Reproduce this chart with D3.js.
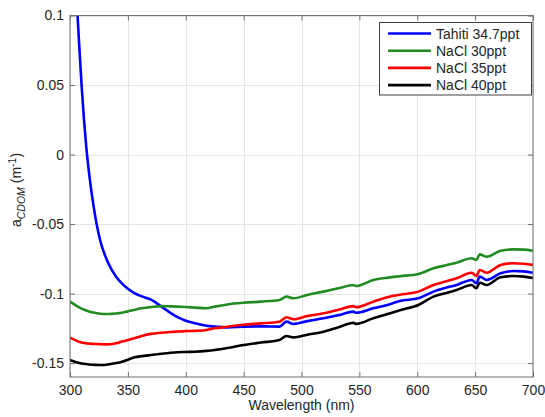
<!DOCTYPE html>
<html>
<head>
<meta charset="utf-8">
<script src="https://cdn.jsdelivr.net/npm/d3@7"></script>
<style>
  html, body { margin: 0; padding: 0; background: #fff; }
  svg { display: block; }
  text { font-family: "Liberation Sans", Arial, Helvetica, sans-serif; }
</style>
</head>
<body>
<svg id="chart" width="545" height="417"></svg>
<script>
// Wavelength grid (nm) shared by all spectra
const wavelengths = [300, 306, 308, 310, 312, 314, 317, 320, 323, 326, 333, 340, 345, 350, 356, 362, 370, 379, 387, 393, 400, 408, 418, 425, 436, 450, 465, 481, 487, 493, 505, 519, 532, 545, 547, 562, 575, 585, 601, 614, 624, 634, 647, 651, 654, 660, 672, 683, 692, 700];

// CDOM absorption spectra (m^-1)
const tahiti347 = [0.2, 0.108, 0.078, 0.05, 0.026, 0.006, -0.017, -0.035, -0.05, -0.0615, -0.078, -0.088, -0.0928, -0.0965, -0.0998, -0.102, -0.1044, -0.1094, -0.114, -0.117, -0.1195, -0.1214, -0.1232, -0.1238, -0.1243, -0.1238, -0.1236, -0.1238, -0.1202, -0.1219, -0.1198, -0.1178, -0.1155, -0.113, -0.1138, -0.1106, -0.108, -0.1053, -0.1034, -0.0986, -0.096, -0.0938, -0.0902, -0.0926, -0.0878, -0.0902, -0.0854, -0.0838, -0.084, -0.085];
const nacl30 = [-0.1058, -0.109, -0.11, -0.1108, -0.1115, -0.1122, -0.113, -0.1136, -0.1141, -0.1145, -0.1147, -0.1143, -0.1138, -0.1128, -0.1116, -0.1106, -0.1097, -0.109, -0.1092, -0.1094, -0.1097, -0.1101, -0.1106, -0.1094, -0.1078, -0.1066, -0.1058, -0.1046, -0.1022, -0.1034, -0.101, -0.0986, -0.0962, -0.0938, -0.0946, -0.0902, -0.0885, -0.0875, -0.0859, -0.0818, -0.0798, -0.0778, -0.0746, -0.0758, -0.0718, -0.0735, -0.0692, -0.0682, -0.0684, -0.0692];
const nacl35 = [-0.1317, -0.134, -0.1347, -0.1352, -0.1355, -0.1358, -0.136, -0.1362, -0.1363, -0.1364, -0.1365, -0.1358, -0.1345, -0.1334, -0.132, -0.1305, -0.129, -0.1282, -0.1276, -0.1273, -0.127, -0.1268, -0.1262, -0.125, -0.1238, -0.1224, -0.1214, -0.1202, -0.117, -0.1185, -0.1162, -0.1142, -0.1116, -0.109, -0.1098, -0.1058, -0.1025, -0.1008, -0.0986, -0.0938, -0.0914, -0.089, -0.085, -0.0874, -0.083, -0.085, -0.0794, -0.0782, -0.0786, -0.0794];
const nacl40 = [-0.1478, -0.1495, -0.15, -0.1503, -0.1505, -0.1507, -0.151, -0.1512, -0.1513, -0.1514, -0.151, -0.15, -0.149, -0.1476, -0.1458, -0.145, -0.1442, -0.1433, -0.1426, -0.1422, -0.142, -0.1418, -0.1412, -0.1406, -0.1392, -0.137, -0.1352, -0.1334, -0.1305, -0.1315, -0.1296, -0.1274, -0.1242, -0.121, -0.1218, -0.1178, -0.1145, -0.112, -0.1082, -0.1022, -0.0998, -0.0974, -0.0938, -0.0962, -0.0922, -0.0938, -0.0883, -0.0874, -0.0878, -0.0888];

const seriesNames = ["Tahiti 34.7ppt", "NaCl 30ppt", "NaCl 35ppt", "NaCl 40ppt"];
const seriesColors = ["#0000ff", "#228b22", "#ff0000", "#000000"];
const seriesValues = [tahiti347, nacl30, nacl35, nacl40];

const xTicks = [300, 350, 400, 450, 500, 550, 600, 650, 700];
const yTicks = [-0.15, -0.1, -0.05, 0, 0.05, 0.1];
const yTickLabels = ["-0.15", "-0.1", "-0.05", "0", "0.05", "0.1"];

const svg = d3.select("#chart");
const plotLeft = 70, plotRight = 533, plotTop = 15.5, plotBottom = 377;
const plotW = plotRight - plotLeft, plotH = plotBottom - plotTop;

const x = d3.scaleLinear().domain([300, 700]).range([plotLeft, plotRight]);
const y = d3.scaleLinear().domain([-0.16, 0.1]).range([plotBottom, plotTop]);

// grid
const grid = svg.append("g");
grid.selectAll("line.gx").data(xTicks).join("line")
  .attr("x1", d => Math.round(x(d)) + 0.5).attr("x2", d => Math.round(x(d)) + 0.5)
  .attr("y1", plotTop).attr("y2", plotBottom)
  .attr("stroke", "#e6e6e6").attr("stroke-width", 1);
grid.selectAll("line.gy").data(yTicks).join("line")
  .attr("y1", d => Math.round(y(d)) + 0.5).attr("y2", d => Math.round(y(d)) + 0.5)
  .attr("x1", plotLeft).attr("x2", plotRight)
  .attr("stroke", "#e6e6e6").attr("stroke-width", 1);

// spectra
svg.append("clipPath").attr("id", "plotClip")
  .append("rect").attr("x", plotLeft).attr("y", plotTop).attr("width", plotW).attr("height", plotH);

const line = d3.line()
  .x((d, i) => x(wavelengths[i]))
  .y(d => y(d))
  .curve(d3.curveMonotoneX);

svg.append("g").attr("clip-path", "url(#plotClip)")
  .selectAll("path").data(seriesValues).join("path")
  .attr("d", d => line(d))
  .attr("fill", "none")
  .attr("stroke", (d, i) => seriesColors[i])
  .attr("stroke-width", 2.6)
  .attr("stroke-linejoin", "round");

// axes with inward ticks
const axisColor = "#707070";
const labelColor = "#262626";

function styleAxis(g) {
  g.select(".domain").remove();
  g.selectAll(".tick line").attr("stroke", axisColor);
  g.selectAll(".tick text").attr("fill", labelColor).style("font-size", "14px");
}

svg.append("g").attr("transform", `translate(0,${plotBottom})`)
  .call(d3.axisBottom(x).tickValues(xTicks).tickSizeInner(-5).tickSizeOuter(0).tickPadding(8))
  .call(styleAxis);
svg.append("g").attr("transform", `translate(0,${plotTop})`)
  .call(d3.axisTop(x).tickValues(xTicks).tickSizeInner(-5).tickSizeOuter(0).tickFormat(""))
  .call(styleAxis);
svg.append("g").attr("transform", `translate(${plotLeft},0)`)
  .call(d3.axisLeft(y).tickValues(yTicks).tickSizeInner(-5).tickSizeOuter(0).tickPadding(6)
    .tickFormat((d, i) => yTickLabels[i]))
  .call(styleAxis);
svg.append("g").attr("transform", `translate(${plotRight},0)`)
  .call(d3.axisRight(y).tickValues(yTicks).tickSizeInner(-5).tickSizeOuter(0).tickFormat(""))
  .call(styleAxis);

svg.append("rect")
  .attr("x", plotLeft).attr("y", plotTop).attr("width", plotW).attr("height", plotH)
  .attr("fill", "none").attr("stroke", axisColor).attr("stroke-width", 1);

// axis titles
svg.append("text")
  .attr("x", (plotLeft + plotRight) / 2).attr("y", 410)
  .attr("text-anchor", "middle").attr("fill", labelColor).style("font-size", "14px")
  .text("Wavelength (nm)");

const yTitle = svg.append("text")
  .attr("transform", "translate(21,190) rotate(-90)")
  .attr("text-anchor", "middle").attr("fill", labelColor).style("font-size", "14px");
yTitle.append("tspan").text("a");
yTitle.append("tspan").attr("dy", 4).style("font-size", "10.5px").style("font-style", "italic").text("CDOM");
yTitle.append("tspan").attr("dy", -4).text(" (m");
yTitle.append("tspan").attr("dy", -5).style("font-size", "10.5px").text("-1");
yTitle.append("tspan").attr("dy", 5).text(")");

// legend
const legend = svg.append("g");
legend.append("rect")
  .attr("x", 379.5).attr("y", 22.5).attr("width", 152).attr("height", 72.5)
  .attr("fill", "#fff").attr("stroke", "#404040").attr("stroke-width", 1);
const rows = legend.selectAll("g.row").data(seriesNames).join("g")
  .attr("transform", (d, i) => `translate(0,${33.5 + i * 17.2})`);
rows.append("line")
  .attr("x1", 388).attr("x2", 431).attr("y1", 0).attr("y2", 0)
  .attr("stroke", (d, i) => seriesColors[i]).attr("stroke-width", 2.6);
rows.append("text")
  .attr("x", 436).attr("y", 5)
  .attr("fill", labelColor).style("font-size", "14px")
  .text(d => d);
</script>
</body>
</html>
